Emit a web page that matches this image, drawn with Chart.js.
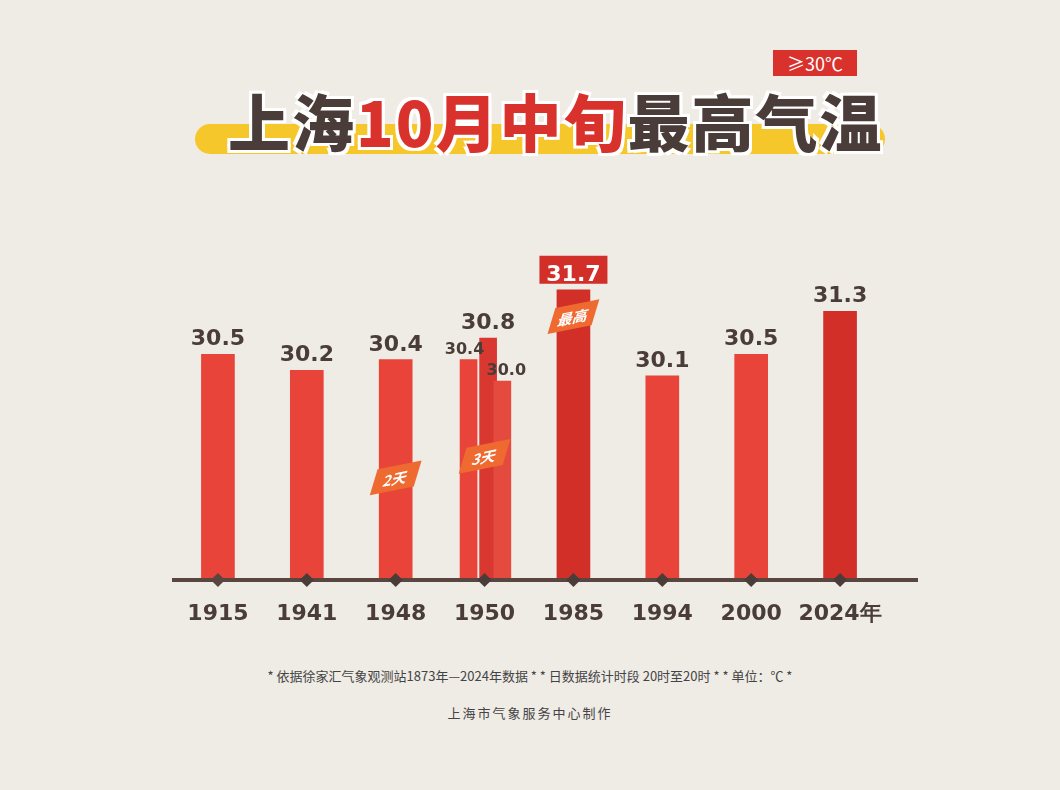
<!DOCTYPE html>
<html><head><meta charset="utf-8">
<script src="https://cdn.jsdelivr.net/npm/chart.js@4/dist/chart.umd.min.js"></script>
<style>
body{margin:0;background:#efebe5;width:1060px;height:790px;overflow:hidden;font-family:"Noto Sans CJK SC";}
#wrap{position:absolute;left:0;top:0;width:1060px;height:790px;}
.t{position:absolute;}
</style></head><body>
<div class="t" style="left:195px;top:124px;width:690px;height:30px;background:#f6c72a;border-radius:15px;"></div>
<div class="t" style="left:228px;top:80px;font-size:62px;font-weight:900;color:#4a3c38;letter-spacing:2px;text-shadow:3px 3px 0 #fff,-3px -3px 0 #fff,3px -3px 0 #fff,-3px 3px 0 #fff;line-height:80px;">上海<span style="color:#d9322c">10月中旬</span>最高气温</div>
<div class="t" style="left:773px;top:50px;width:84px;height:26px;background:#d9322c;color:#fff;font-size:18px;text-align:center;line-height:26px;">≥30℃</div>
<div class="t" style="left:0;top:666px;width:1060px;text-align:center;font-size:13px;color:#444;">* 依据徐家汇气象观测站1873年—2024年数据 * * 日数据统计时段 20时至20时 * * 单位：℃ *</div>
<div class="t" style="left:0;top:703px;width:1060px;text-align:center;font-size:13px;color:#444;letter-spacing:2px;">上海市气象服务中心制作</div>
<div id="wrap"><canvas id="c" width="1060" height="790"></canvas></div>
<script>
const years=['1915','1941','1948','1950','1985','1994','2000','2024年'];
const maxTemps=[30.5,30.2,30.4,null,31.7,30.1,30.5,31.3];
const days1950=[30.4,30.8,30.0];
const badges=[{i:2,text:'2天',v:28.2},{i:3,text:'3天',v:28.6},{i:4,text:'最高',v:31.2}];
const mainColors=['#e8443a','#e8443a','#e8443a',null,'#d22f29','#e8443a','#e8443a','#d22f29'];
const mainData=maxTemps.map((v,i)=>({x:i,y:v}));
const sub=[{x:2.82,y:days1950[0]},{x:3.04,y:days1950[1]},{x:3.2,y:days1950[2]}];
const fontNum='bold 22px "DejaVu Sans"';
const plug={id:'p',afterDatasetsDraw(ch){
 const c=ch.ctx,xs=ch.scales.x,ys=ch.scales.y;const y0=ys.getPixelForValue(26.3);
 c.save();c.fillStyle='#5a4640';c.fillRect(172,y0-2,746,4);
 years.forEach((l,i)=>{const x=xs.getPixelForValue(i);c.save();c.translate(x,y0);c.rotate(Math.PI/4);c.fillRect(-5,-5,10,10);c.restore();
  c.font='bold 22px "DejaVu Sans"';c.textAlign='center';c.fillStyle='#4a3c38';c.fillText(l,x,y0+40);});
 c.textAlign='center';c.fillStyle='#4a3c38';
 maxTemps.forEach((v,i)=>{if(v==null)return;const x=xs.getPixelForValue(i),y=ys.getPixelForValue(v);
  if(i===4){c.fillStyle='#d22f29';c.fillRect(x-34,y-34,68,28);c.fillStyle='#fff';}else c.fillStyle='#4a3c38';
  c.font=fontNum;c.fillText(v.toFixed(1),x,y-9);});
 c.fillStyle='#4a3c38';
 c.font=fontNum;c.fillText(days1950[1].toFixed(1),xs.getPixelForValue(sub[1].x),ys.getPixelForValue(days1950[1])-9);
 c.font='bold 16px "DejaVu Sans"';c.fillText(days1950[0].toFixed(1),xs.getPixelForValue(sub[0].x)-4,ys.getPixelForValue(days1950[0])-6);
 c.fillText(days1950[2].toFixed(1),xs.getPixelForValue(sub[2].x)+4,ys.getPixelForValue(days1950[2])-6);
 badges.forEach(b=>{const x=xs.getPixelForValue(b.i),y=ys.getPixelForValue(b.v);c.save();c.translate(x,y);c.transform(1,-0.2,-0.3,1,0,0);
  c.fillStyle='#ee6a30';c.fillRect(-22,-13,44,26);c.fillStyle='#fff';c.font='bold 15px "Noto Sans CJK SC"';c.textBaseline='middle';c.fillText(b.text,0,1);c.restore();});
 c.restore();}};
new Chart(document.getElementById('c'),{type:'bar',data:{datasets:[
 {data:sub,backgroundColor:['#e8443a','#d83830','#e44a3e'],barThickness:17,grouped:false,order:1},
 {data:mainData,backgroundColor:mainColors,barThickness:33,grouped:false,order:2}]},
 options:{responsive:false,animation:false,layout:{padding:{left:173.5,right:175.5,top:200,bottom:210}},
 plugins:{legend:{display:false},tooltip:{enabled:false}},
 scales:{x:{type:'linear',offset:false,min:-0.5,max:7.5,display:false},y:{min:26.3,max:33.37,display:false}}},plugins:[plug]});
</script></body></html>
